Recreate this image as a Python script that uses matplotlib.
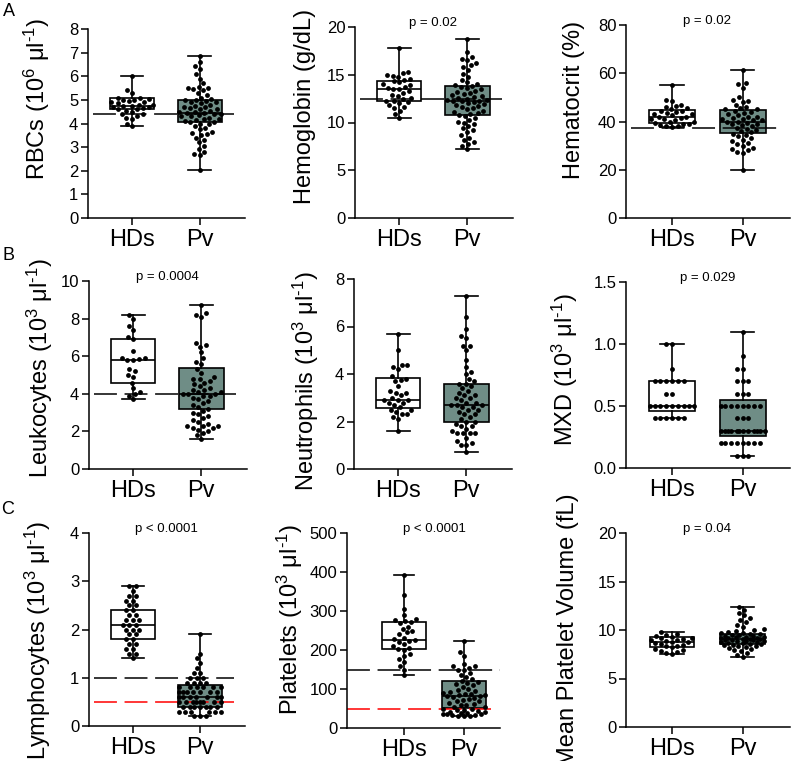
import numpy as np
import matplotlib
matplotlib.use('Agg')
import matplotlib.pyplot as plt

plt.rcParams['font.family'] = ['Liberation Sans', 'DejaVu Sans']
plt.rcParams['mathtext.fontset'] = 'custom'
plt.rcParams['mathtext.rm'] = 'Liberation Sans'
plt.rcParams['mathtext.it'] = 'Liberation Sans:italic'
plt.rcParams['mathtext.default'] = 'regular'

groups = ['HDs', 'Pv']

# --- values ---
rbc_hd = [6.0, 5.4, 5.3, 5.1, 5.1, 5.05, 5.0, 5.0, 4.95, 4.9, 4.9, 4.85, 4.8, 4.8, 4.75,
          4.75, 4.7, 4.7, 4.65, 4.6, 4.6, 4.55, 4.5, 4.4, 4.4, 4.3, 4.25, 4.2, 4.0, 3.9]
rbc_pv = [6.85, 6.6, 6.45, 6.3, 6.1, 5.9, 5.7, 5.55, 5.5, 5.5, 5.45, 5.4, 5.3, 5.2, 5.1,
          5.05, 5.0, 5.0, 4.95, 4.9, 4.9, 4.85, 4.8, 4.75, 4.7, 4.7, 4.65, 4.6, 4.6, 4.55,
          4.5, 4.5, 4.45, 4.45, 4.4, 4.4, 4.35, 4.3, 4.3, 4.25, 4.2, 4.2, 4.15, 4.1, 4.05,
          4.05, 4.0, 4.0, 3.9, 3.8, 3.75, 3.65, 3.6, 3.55, 3.5, 3.4, 3.3, 3.2, 3.05, 2.9,
          2.8, 2.7, 2.65, 2.05]
rbc_box = [(4.6, 4.75, 5.08), (4.05, 4.45, 5.0)]

hgb_hd = [17.8, 15.3, 15.2, 15.0, 14.9, 14.8, 14.6, 14.5, 14.3, 14.2, 14.0, 13.9, 13.7,
          13.6, 13.5, 13.5, 13.3, 13.1, 12.9, 12.8, 12.6, 12.5, 12.3, 12.2, 12.1, 12.0,
          11.8, 11.6, 11.5, 11.2, 10.9, 10.5]
hgb_pv = [18.7, 17.4, 16.9, 16.6, 16.5, 16.2, 16.0, 15.8, 15.5, 15.1, 14.8, 14.5, 14.2,
          14.0, 13.9, 13.8, 13.7, 13.6, 13.5, 13.3, 13.2, 13.1, 13.0, 12.9, 12.8, 12.7,
          12.6, 12.5, 12.4, 12.4, 12.3, 12.3, 12.2, 12.1, 12.0, 11.9, 11.8, 11.7, 11.6,
          11.5, 11.4, 11.2, 11.1, 11.0, 10.9, 10.8, 10.7, 10.5, 10.3, 10.1, 10.0, 9.8,
          9.6, 9.4, 9.2, 9.0, 8.7, 8.4, 8.2, 8.0, 7.8, 7.5, 7.2]
hgb_box = [(12.2, 13.5, 14.3), (10.8, 12.3, 13.8)]

hct_hd = [55, 49, 48.5, 47, 46.5, 46, 45.5, 45, 44.5, 44.5, 44, 43.5, 43, 43, 42.5, 42,
          42, 41.5, 41, 41, 40.5, 40, 40, 39.5, 39, 39, 38.5, 38, 38, 37.8]
hct_pv = [61.5, 56, 55.5, 54, 50, 49, 48.5, 48, 47, 46, 45.5, 45, 45, 44.5, 44, 43.5, 43,
          42.5, 42, 42, 41.5, 41, 41, 40.5, 40.5, 40, 40, 39.5, 39, 39, 38.5, 38, 37.5,
          37, 36.5, 36, 35.5, 35, 34.5, 34, 33, 32.5, 32, 31, 30.5, 30, 29, 28.5, 28,
          27.5, 27, 19.8]
hct_box = [(39.5, 42.0, 44.6), (35.3, 40.0, 44.8)]

leu_hd = [8.2, 8.0, 7.6, 7.4, 7.0, 6.9, 6.3, 5.9, 5.9, 5.85, 5.8, 5.8, 5.3, 5.2, 5.0, 4.9,
          4.6, 4.3, 4.1, 4.0, 3.9, 3.7]
leu_pv = [8.7, 8.3, 8.2, 8.1, 6.7, 6.6, 6.5, 6.2, 5.9, 5.7, 5.6, 5.3, 5.1, 4.9, 4.8, 4.8,
          4.7, 4.6, 4.5, 4.4, 4.3, 4.2, 4.2, 4.1, 4.1, 4.0, 4.0, 4.0, 3.9, 3.9, 3.8, 3.7,
          3.6, 3.5, 3.4, 3.3, 3.2, 3.1, 3.0, 2.9, 2.8, 2.7, 2.6, 2.5, 2.4, 2.3, 2.3, 2.3,
          2.2, 2.2, 2.1, 2.0, 1.9, 1.8, 1.6]
leu_box = [(4.6, 5.8, 6.9), (3.2, 4.0, 5.35)]

neu_hd = [5.7, 5.0, 4.4, 4.4, 4.3, 4.2, 3.9, 3.8, 3.75, 3.7, 3.5, 3.3, 3.2, 3.2, 3.1, 3.0,
          2.9, 2.9, 2.9, 2.8, 2.8, 2.7, 2.6, 2.5, 2.5, 2.4, 2.3, 2.3, 2.2, 2.1, 1.6]
neu_pv = [7.3, 6.4, 5.9, 5.6, 5.5, 5.2, 5.2, 5.0, 4.6, 4.3, 4.1, 4.0, 3.8, 3.7, 3.6, 3.6,
          3.5, 3.4, 3.3, 3.2, 3.1, 3.1, 3.0, 3.0, 2.9, 2.8, 2.8, 2.7, 2.7, 2.7, 2.6, 2.6,
          2.5, 2.5, 2.4, 2.3, 2.3, 2.2, 2.1, 2.0, 2.0, 1.9, 1.8, 1.8, 1.7, 1.6, 1.5, 1.5,
          1.5, 1.5, 1.3, 1.2, 1.1, 1.0, 1.0, 0.7]
neu_box = [(2.55, 2.9, 3.85), (2.0, 2.7, 3.6)]

mxd_hd = [1.0, 1.0, 0.8, 0.7, 0.7, 0.7, 0.7, 0.7, 0.7, 0.6, 0.6, 0.5, 0.5, 0.5, 0.5, 0.5,
          0.5, 0.5, 0.5, 0.5, 0.4, 0.4, 0.4, 0.4, 0.4, 0.4]
mxd_pv = [1.1, 0.9, 0.8, 0.8, 0.7, 0.7, 0.7, 0.6, 0.6, 0.6, 0.5, 0.5, 0.5, 0.5, 0.5, 0.5,
          0.5, 0.5, 0.4, 0.4, 0.4, 0.3, 0.3, 0.3, 0.3, 0.3, 0.3, 0.3, 0.3, 0.3, 0.3, 0.3,
          0.3, 0.2, 0.2, 0.2, 0.2, 0.2, 0.2, 0.2, 0.2, 0.1, 0.1, 0.1]
mxd_box = [(0.46, 0.5, 0.7), (0.26, 0.3, 0.55)]

lym_hd = [2.9, 2.9, 2.8, 2.7, 2.7, 2.6, 2.6, 2.5, 2.5, 2.4, 2.4, 2.3, 2.3, 2.2, 2.2, 2.2,
          2.1, 2.1, 2.1, 2.0, 2.0, 2.0, 1.9, 1.9, 1.8, 1.8, 1.7, 1.7, 1.6, 1.6, 1.5, 1.5,
          1.4]
lym_pv = [1.9, 1.5, 1.4, 1.3, 1.2, 1.1, 1.1, 1.0, 1.0, 1.0, 0.9, 0.9, 0.9, 0.9, 0.8, 0.8,
          0.8, 0.8, 0.8, 0.8, 0.7, 0.7, 0.7, 0.7, 0.7, 0.7, 0.7, 0.6, 0.6, 0.6, 0.6, 0.6,
          0.6, 0.6, 0.5, 0.5, 0.5, 0.5, 0.5, 0.5, 0.5, 0.5, 0.4, 0.4, 0.4, 0.4, 0.4, 0.4,
          0.4, 0.3, 0.3, 0.3, 0.3, 0.3, 0.3, 0.2, 0.2, 0.2]
lym_box = [(1.8, 2.1, 2.4), (0.4, 0.6, 0.85)]

plt_hd = [393, 340, 305, 290, 280, 278, 275, 272, 268, 260, 255, 250, 245, 240, 232, 228,
          225, 223, 220, 215, 210, 205, 203, 200, 190, 185, 178, 170, 160, 150, 135]
plt_pv = [222, 195, 185, 165, 160, 158, 155, 150, 148, 140, 135, 130, 125, 120, 118, 115,
          112, 110, 105, 100, 98, 95, 92, 90, 88, 86, 85, 84, 83, 82, 80, 78, 75, 72, 70,
          68, 65, 62, 60, 58, 55, 53, 50, 48, 46, 45, 44, 42, 40, 39, 38, 37, 36, 35, 34,
          33, 32, 31, 30]
plt_box = [(203, 225, 273), (52, 83, 120)]

mpv_hd = [9.8, 9.6, 9.5, 9.4, 9.3, 9.2, 9.2, 9.1, 9.0, 9.0, 8.9, 8.8, 8.8, 8.7, 8.6, 8.5,
          8.4, 8.3, 8.2, 8.0, 7.9, 7.8, 7.7, 7.6, 7.5]
mpv_pv = [12.4, 12.1, 11.8, 11.5, 11.2, 11.0, 10.8, 10.5, 10.3, 10.1, 10.0, 9.9, 9.8, 9.7,
          9.7, 9.6, 9.6, 9.5, 9.5, 9.4, 9.4, 9.3, 9.3, 9.3, 9.2, 9.2, 9.2, 9.1, 9.1, 9.1,
          9.0, 9.0, 9.0, 8.9, 8.9, 8.9, 8.8, 8.8, 8.7, 8.7, 8.6, 8.6, 8.5, 8.5, 8.4, 8.3,
          8.2, 8.1, 8.0, 7.9, 7.8, 7.6, 7.4, 7.2]
mpv_box = [(8.2, 8.8, 9.3), (8.6, 9.1, 9.6)]

unit = ' μl$^{\\text{-1}}$)'
ylabels = ['RBCs (10$^{6}$' + unit, 'Hemoglobin (g/dL)', 'Hematocrit (%)',
           'Leukocytes (10$^{3}$' + unit, 'Neutrophils (10$^{3}$' + unit,
           'MXD (10$^{3}$' + unit,
           'Lymphocytes (10$^{3}$' + unit, 'Platelets (10$^{3}$' + unit,
           'Mean Platelet Volume (fL)']
pvalues = [None, 'p = 0.02', 'p = 0.02', 'p = 0.0004', None, 'p = 0.029',
           'p < 0.0001', 'p < 0.0001', 'p = 0.04']
black_refs = [4.4, 12.5, 37.5, 4.0, None, None, 1.0, 150, None]
red_refs = [None, None, None, None, None, None, 0.5, 50, None]

datasets = [(rbc_hd, rbc_pv, rbc_box), (hgb_hd, hgb_pv, hgb_box), (hct_hd, hct_pv, hct_box),
            (leu_hd, leu_pv, leu_box), (neu_hd, neu_pv, neu_box), (mxd_hd, mxd_pv, mxd_box),
            (lym_hd, lym_pv, lym_box), (plt_hd, plt_pv, plt_box), (mpv_hd, mpv_pv, mpv_box)]

# layout (pixel boxes of each axes: left, top, right, bottom)
W, H = 792, 761
rects = [(88, 29, 245, 218), (355, 27, 513, 218), (626, 25, 790, 218),
         (89, 281, 247, 469), (354, 279, 512, 469), (626, 282, 790, 468),
         (89, 533, 245, 726), (347, 533, 500, 728), (626, 533, 790, 727)]
# y label centres in pixels
label_xy = [(37, 99), (305, 106), (574, 100),
            (40, 368), (306, 381), (565, 370),
            (38, 640), (290, 620), (568, 630)]
ylims = [8, 20, 80, 10, 8, 1.5, 4, 500, 20]
ysteps = [1, 5, 20, 2, 2, 0.5, 1, 100, 5]
xlims = [(0.35, 2.67)] * 7 + [(0.05, 2.6)] + [(0.35, 2.67)]
ref_span = [(0.03, 0.93)] * 7 + [(0.0, 1.0)] + [(0.03, 0.93)]
red_span = [(0.03, 0.93)] * 7 + [(0.0, 0.94)] + [(0.03, 0.93)]
box_w = [0.65] * 7 + [0.72] + [0.63]
pv_color = '#6F8D86'


def swarm(vals, xsc, ysc, d, max_px):
    ys = np.sort(np.asarray(vals, float)) * ysc
    placed = []
    for y in ys:
        cands = [0.0]
        for px, py in placed:
            dy = y - py
            if abs(dy) < d:
                dx = np.sqrt(d * d - dy * dy)
                cands += [px - dx, px + dx]
        cands.sort(key=abs)
        best = None
        for c in cands:
            if abs(c) > max_px:
                continue
            if all((c - px) ** 2 + (y - py) ** 2 >= d * d - 1e-6 for px, py in placed):
                best = c
                break
        if best is None:
            grid = np.linspace(-max_px, max_px, 13)
            scores = [min([np.hypot(g - px, y - py) for px, py in placed] + [99]) for g in grid]
            best = grid[int(np.argmax(scores))]
        placed.append((best, y))
    xs = np.array([p[0] for p in placed]) / xsc
    return xs, ys / ysc


fig = plt.figure(figsize=(W / 100, H / 100), dpi=100)

for i in range(9):
    l, t, r, b = rects[i]
    ax = fig.add_axes([l / W, 1 - b / H, (r - l) / W, (b - t) / H])
    hd, pv, box = datasets[i]
    ymax = ylims[i]
    ax.set_ylim(0, ymax)
    ax.set_xlim(*xlims[i])
    xsc = (r - l) / (xlims[i][1] - xlims[i][0])
    ysc = (b - t) / ymax

    stats = []
    for vals, (q1, med, q3) in zip([hd, pv], box):
        stats.append(dict(med=med, q1=q1, q3=q3, whislo=min(vals), whishi=max(vals), fliers=[]))
    bp = ax.bxp(stats, positions=[1, 2], widths=box_w[i], capwidths=0.33, patch_artist=True,
                showfliers=False,
                boxprops=dict(linewidth=1.2, edgecolor='black'),
                medianprops=dict(color='black', linewidth=1.2),
                whiskerprops=dict(color='black', linewidth=1.2),
                capprops=dict(color='black', linewidth=1.2))
    bp['boxes'][0].set_facecolor('white')
    bp['boxes'][1].set_facecolor(pv_color)

    if black_refs[i] is not None:
        ax.axhline(black_refs[i], *ref_span[i], color='black', lw=1.1, dashes=(15, 5), zorder=2.5)
    if red_refs[i] is not None:
        ax.axhline(red_refs[i], *red_span[i], color='red', lw=1.1, dashes=(15, 5), zorder=2.5)

    for pos, vals in zip([1, 2], [hd, pv]):
        dx, yv = swarm(vals, xsc, ysc, 5.8, box_w[i] * xsc / 2 - 1)
        ax.scatter(pos + dx, yv, s=12, color='black', linewidths=0, zorder=3, clip_on=False)

    if pvalues[i]:
        ax.annotate(pvalues[i], xy=(1.5, 1), xycoords=('data', 'axes fraction'),
                    xytext=(0, 3), textcoords='offset points', ha='center', va='center',
                    fontsize=9.5, annotation_clip=False)

    ticks = np.arange(0, ymax + ysteps[i] / 2, ysteps[i])
    ax.set_yticks(ticks)
    if ysteps[i] < 1:
        ax.set_yticklabels(['%.1f' % v for v in ticks])
    ax.set_xticks([1, 2])
    ax.set_xticklabels(groups, fontsize=17)
    ax.tick_params(axis='y', labelsize=12, length=5, width=1.1, pad=2)
    ax.tick_params(axis='x', length=5, width=1.1, pad=3)
    ax.set_ylabel(ylabels[i], fontsize=17, va='center')
    lx, ly = label_xy[i]
    ax.yaxis.set_label_coords((lx - l) / (r - l), (b - ly) / (b - t))
    ax.spines['top'].set_visible(False)
    ax.spines['right'].set_visible(False)
    ax.spines['left'].set_linewidth(1.1)
    ax.spines['bottom'].set_linewidth(1.1)

fig.text(9 / W, 1 - 11 / H, 'A', fontsize=13, ha='center', va='center')
fig.text(8 / W, 1 - 256 / H, 'B', fontsize=13, ha='center', va='center')
fig.text(8 / W, 1 - 509 / H, 'C', fontsize=13, ha='center', va='center')

fig.savefig('out.png', dpi=100)
